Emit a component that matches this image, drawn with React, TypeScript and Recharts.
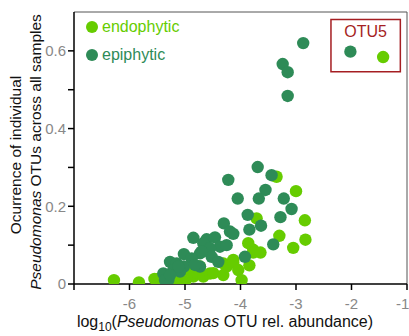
import React from 'react';
import {
  ScatterChart, Scatter, XAxis, YAxis, ReferenceLine, ReferenceArea,
} from 'recharts';

const endoLogAbundance = [
  -6.28, -5.83, -5.55, -5.45, -5.33, -5.15, -5.0, -4.97, -4.85, -4.79, -4.73, -4.67, -4.55, -4.49,
  -4.31, -4.31, -4.25, -4.13, -4.13, -4.04, -3.98, -3.84, -3.86, -3.77, -3.77, -3.64,
  -3.71, -3.35, -3.0, -2.84, -3.3, -2.83, -3.05, -1.43,
];
const endoOccurrence = [
  0.01, 0.004, 0.013, 0.015, 0.003, 0.01, 0.006, 0.036, 0.019, 0.028, 0.045, 0.019, 0.027, 0.028,
  0.023, 0.053, 0.045, 0.062, 0.055, 0.036, 0.01, 0.048, 0.105, 0.088, 0.081, 0.081,
  0.169, 0.276, 0.239, 0.164, 0.124, 0.114, 0.093, 0.584,
];

const epiLogAbundance = [
  -2.87, -3.24, -3.15, -3.15, -2.02, -3.69, -3.44, -4.22, -3.55, -4.05, -3.67, -3.22, -3.08,
  -3.87, -3.28, -4.3, -3.63, -3.84, -4.19, -4.13, -3.41, -3.92, -4.85, -4.61, -4.46, -4.67,
  -4.37, -4.25, -4.55, -4.73, -5.02, -4.88, -5.27, -5.15, -4.52, -4.4, -5.02, -4.73, -5.21,
  -5.39, -5.3, -5.09, -4.7, -4.82, -5.12, -5.36, -5.27,
];
const epiOccurrence = [
  0.62, 0.566, 0.545, 0.484, 0.598, 0.301, 0.28, 0.268, 0.242, 0.22, 0.22, 0.22, 0.193,
  0.178, 0.172, 0.156, 0.15, 0.14, 0.135, 0.129, 0.102, 0.07, 0.119, 0.115, 0.12, 0.105,
  0.096, 0.1, 0.092, 0.079, 0.077, 0.066, 0.057, 0.053, 0.07, 0.057, 0.045, 0.045, 0.036,
  0.027, 0.01, 0.032, 0.083, 0.049, 0.045, 0.01, 0.023,
];

const xTicks = [-7, -6, -5, -4, -3, -2, -1];
const yTicks = [0, 0.1, 0.2, 0.3, 0.4, 0.5, 0.6];
const yLabelTicks = [0, 0.2, 0.4, 0.6];

const seriesNames = ['endophytic', 'epiphytic'];
const ENDO = '#66cc00';
const EPI = '#2e8b57';
const RED = '#a51e22';
const FONT = 'Liberation Sans, Arial, Helvetica, sans-serif';

const endoData = endoLogAbundance.map((x, i) => ({ x, y: endoOccurrence[i] }));
const epiData = epiLogAbundance.map((x, i) => ({ x, y: epiOccurrence[i] }));

const dot = (color: string) => (props: any) => (
  <circle cx={props.cx} cy={props.cy} r={6.2} fill={color} />
);

const XLabel = () => (
  <text x={225} y={327} textAnchor="middle" fontSize={16} fontFamily={FONT} fill="#111">
    <tspan>log</tspan>
    <tspan fontSize={12} dy={4}>10</tspan>
    <tspan dy={-4}>(</tspan>
    <tspan fontStyle="italic">Pseudomonas</tspan>
    <tspan> OTU rel. abundance)</tspan>
  </text>
);

const YLabel = () => (
  <g fontFamily={FONT} fontSize={15.5} fill="#111">
    <text transform="translate(21,155) rotate(-90)" textAnchor="middle">Ocurrence of individual</text>
    <text transform="translate(41,152) rotate(-90)" textAnchor="middle">
      <tspan fontStyle="italic">Pseudomonas</tspan>
      <tspan> OTUs across all samples</tspan>
    </text>
  </g>
);

export default function App() {
  return (
    <div style={{ position: 'absolute', left: 0, top: 0, width: 409, height: 336, background: '#fff' }}>
      <ScatterChart width={409} height={336} margin={{ top: 12, right: 2, left: 0, bottom: 0 }}>
        <XAxis
          type="number"
          dataKey="x"
          domain={[-7, -1]}
          ticks={xTicks}
          allowDataOverflow
          tickFormatter={(v: number) => (v === -7 ? '' : String(v))}
          height={52}
          tickSize={6}
          tickMargin={8}
          axisLine={{ stroke: '#000', strokeWidth: 1.5 }}
          tickLine={{ stroke: '#000', strokeWidth: 1.5 }}
          tick={{ fill: '#888', fontSize: 15, fontFamily: FONT }}
          label={<XLabel />}
        />
        <YAxis
          type="number"
          dataKey="y"
          domain={[0, 0.7]}
          ticks={yTicks}
          allowDataOverflow
          tickFormatter={(v: number) => (yLabelTicks.includes(v) ? (v === 0 ? '0' : String(v)) : '')}
          width={74}
          tickSize={6}
          tickMargin={2}
          axisLine={{ stroke: '#000', strokeWidth: 1.5 }}
          tickLine={{ stroke: '#000', strokeWidth: 1.5 }}
          tick={{ fill: '#888', fontSize: 15, fontFamily: FONT }}
          label={<YLabel />}
        />
        <ReferenceLine y={0.7} stroke="#555" strokeWidth={1} ifOverflow="visible" />
        <ReferenceLine x={-1} stroke="#555" strokeWidth={1} ifOverflow="visible" />
        <ReferenceArea
          x1={-2.37}
          x2={-1.12}
          y1={0.5465}
          y2={0.681}
          fill="none"
          fillOpacity={0}
          stroke={RED}
          strokeWidth={1.5}
          ifOverflow="visible"
          label={{ value: 'OTU5', position: 'insideTop', offset: 6, fill: RED, fontSize: 16, fontFamily: FONT }}
        />
        <Scatter name="endophytic" data={endoData} fill={ENDO} shape={dot(ENDO)} isAnimationActive={false} />
        <Scatter name="epiphytic" data={epiData} fill={EPI} shape={dot(EPI)} isAnimationActive={false} />
      </ScatterChart>
      <div style={{ position: 'absolute', left: 86, top: 13, fontFamily: FONT, fontSize: 16, lineHeight: '28px' }}>
        {seriesNames.map((n, i) => (
          <div key={n} style={{ display: 'flex', alignItems: 'center', color: i === 0 ? ENDO : EPI }}>
            <span style={{ width: 12, height: 12, borderRadius: 6, background: i === 0 ? ENDO : EPI, marginRight: 4, display: 'inline-block' }} />
            {n}
          </div>
        ))}
      </div>
    </div>
  );
}
